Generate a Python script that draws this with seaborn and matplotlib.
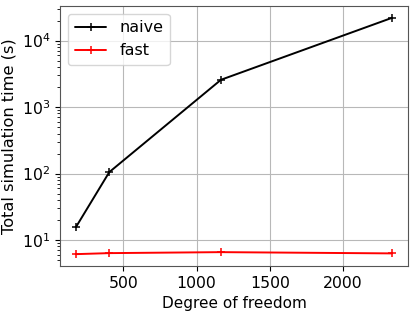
import matplotlib
matplotlib.use("Agg")
import matplotlib.pyplot as plt
import seaborn as sns
import pandas as pd

# ──────────────────────────────
#  Data
# ──────────────────────────────
dof = [177, 404, 1166, 2334]
naive_time = [15.7, 105, 2570, 22000]
fast_time = [6.14, 6.36, 6.58, 6.3]

naive = pd.DataFrame({"dof": dof, "time": naive_time})
fast = pd.DataFrame({"dof": dof, "time": fast_time})

sns.set_style("ticks")
plt.rcParams["font.family"] = ["DejaVu Sans"]
plt.rcParams["text.color"] = "black"
plt.rcParams["axes.labelcolor"] = "black"
plt.rcParams["xtick.color"] = "black"
plt.rcParams["ytick.color"] = "black"

fig = plt.figure(figsize=(4.15, 3.14), dpi=100)
ax = fig.add_axes([0.145, 0.153, 0.838, 0.828])

for d, col, lab in [(naive, "black", "naive"), (fast, "red", "fast")]:
    sns.lineplot(data=d, x="dof", y="time", color=col, label=lab,
                 marker="+", markersize=5.5, markeredgewidth=1.1,
                 markeredgecolor=col, linewidth=1.4, ax=ax, sort=False)

ax.set_yscale("log")
ax.grid(True, which="major", color="#b8b8b8", linewidth=0.8)
ax.set_xticks([500, 1000, 1500, 2000])
ax.set_xlabel("Degree of freedom", fontsize=11)
ax.set_ylabel("Total simulation time (s)", fontsize=11.7)
ax.tick_params(which="major", labelsize=11.3, length=3.5, width=0.8)
ax.tick_params(axis="y", which="minor", left=True, length=2, width=0.6)
for s in ax.spines.values():
    s.set_color("#555555")

leg = ax.legend(loc="upper left", fontsize=11.5)

fig.savefig("out.png", dpi=100)
